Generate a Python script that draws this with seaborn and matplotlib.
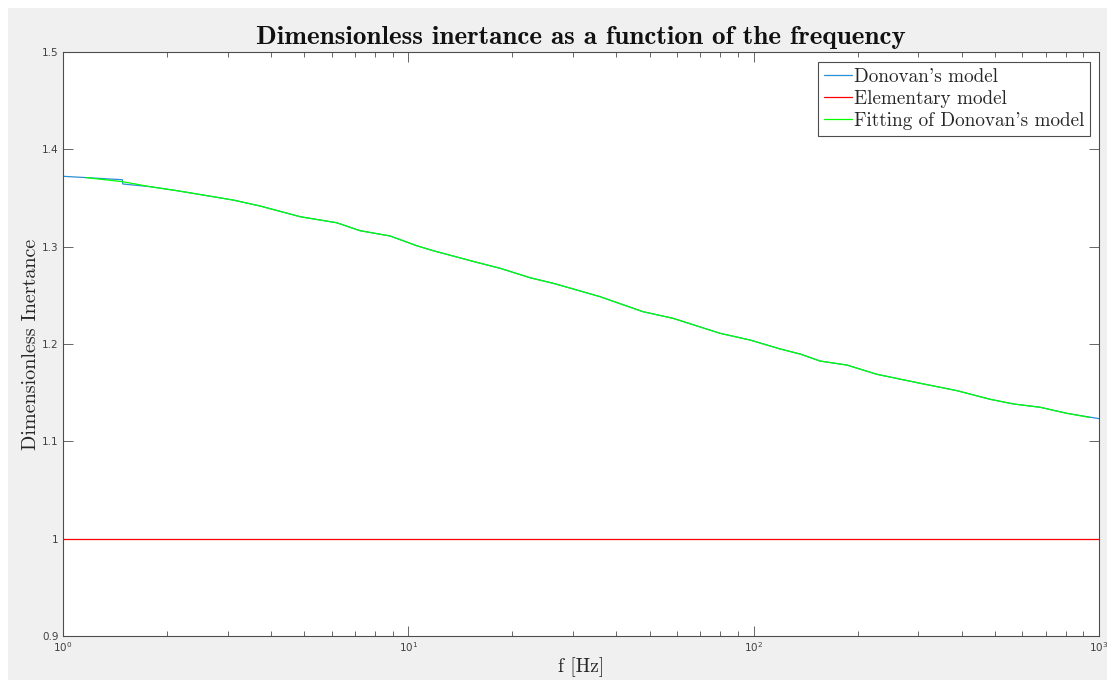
import numpy as np
import pandas as pd
import matplotlib
matplotlib.use("Agg")
import matplotlib.pyplot as plt
import seaborn as sns
from matplotlib.patches import Rectangle
from matplotlib.ticker import LogLocator, FixedLocator, FixedFormatter

# ---------------- data ----------------
fit_freq = [1.17, 1.49, 1.79, 2.14, 2.79, 3.11, 3.72, 4.86, 5.19, 6.20, 7.25, 8.85,
            10.57, 11.79, 15.78, 18.43, 22.51, 26.24, 30.74, 35.91, 47.8, 58.4,
            79.9, 97.6, 119.3, 136.3, 155.7, 186.1, 227.2, 302.9, 387.5, 483.7,
            565.0, 675.3, 806.6, 940.0]
fit_vals = [1.3709, 1.3667, 1.3616, 1.3575, 1.3507, 1.3479, 1.3418, 1.3308, 1.3291,
            1.3246, 1.3164, 1.3110, 1.3010, 1.2959, 1.2839, 1.2778, 1.2681, 1.2624,
            1.2555, 1.2486, 1.2332, 1.2264, 1.2110, 1.2041, 1.1949, 1.1897, 1.1825,
            1.1784, 1.1689, 1.1597, 1.1521, 1.1432, 1.1384, 1.1350, 1.1288, 1.1245]

don_freq = [1.0, 1.485, 1.49, 1.79, 2.14, 2.79, 3.11, 3.72, 4.86, 5.19, 6.20, 7.25,
            8.85, 10.57, 11.79, 15.78, 18.43, 22.51, 26.24, 30.74, 35.91, 47.8, 58.4,
            79.9, 97.6, 119.3, 136.3, 155.7, 186.1, 227.2, 302.9, 387.5, 483.7,
            565.0, 675.3, 806.6, 1000.0]
don_vals = [1.3723, 1.3688, 1.3644, 1.3616, 1.3575, 1.3507, 1.3479, 1.3418, 1.3308,
            1.3291, 1.3246, 1.3164, 1.3110, 1.3010, 1.2959, 1.2839, 1.2778, 1.2681,
            1.2624, 1.2555, 1.2486, 1.2332, 1.2264, 1.2110, 1.2041, 1.1949, 1.1897,
            1.1825, 1.1784, 1.1689, 1.1597, 1.1521, 1.1432, 1.1384, 1.1350, 1.1288,
            1.1233]

elem_freq = [1.0, 1000.0]
elem_vals = [1.0, 1.0]

y_ticks = [0.9, 1.0, 1.1, 1.2, 1.3, 1.4, 1.5]
y_tick_labels = ["0.9", "1", "1.1", "1.2", "1.3", "1.4", "1.5"]

labels = ["Donovan's model", "Elementary model", "Fitting of Donovan's model"]

# ---------------- style ----------------
sns.set_style("ticks")
plt.rcParams["font.family"] = ["DejaVu Sans"]
plt.rcParams["axes.formatter.use_mathtext"] = True

fig = plt.figure(figsize=(11.07, 6.80), dpi=100, facecolor="white")
fig.patches.append(Rectangle((8 / 1107, 0), 1 - 8 / 1107, 1 - 8 / 680,
                             transform=fig.transFigure, facecolor="#f0f0f0",
                             edgecolor="none", zorder=-10))
ax = fig.add_axes([63 / 1107, 1 - 636 / 680, (1099 - 63) / 1107, (636 - 52) / 680])
ax.set_facecolor("white")

df_don = pd.DataFrame({"f": don_freq, "v": don_vals})
df_el = pd.DataFrame({"f": elem_freq, "v": elem_vals})
df_fit = pd.DataFrame({"f": fit_freq, "v": fit_vals})

sns.lineplot(data=df_don, x="f", y="v", ax=ax, color="#2b8fd6", lw=0.9,
             estimator=None, sort=False, label=labels[0])
sns.lineplot(data=df_el, x="f", y="v", ax=ax, color="#ff0000", lw=0.9,
             estimator=None, sort=False, label=labels[1])
sns.lineplot(data=df_fit, x="f", y="v", ax=ax, color="#00ff00", lw=0.9,
             estimator=None, sort=False, label=labels[2])

ax.set_xscale("log")
ax.set_xlim(1, 1000)
ax.set_ylim(0.9, 1.5)
ax.yaxis.set_major_locator(FixedLocator(y_ticks))
ax.yaxis.set_major_formatter(FixedFormatter(y_tick_labels))
ax.xaxis.set_major_locator(LogLocator(base=10, numticks=10))
ax.xaxis.set_minor_locator(LogLocator(base=10, subs=np.arange(2, 10), numticks=10))

axcol = "#4d4d4d"
for s in ax.spines.values():
    s.set_visible(True)
    s.set_color(axcol)
    s.set_linewidth(0.8)
ax.tick_params(which="both", direction="in", top=True, right=True, color=axcol,
               width=0.6, labelsize=7.5, labelcolor="#404040")
ax.tick_params(which="major", length=7.5, pad=3)
ax.tick_params(which="minor", length=3.8)

ax.set_xlabel("f [Hz]", family="cmr10", fontsize=14, color="#262626", labelpad=2)
ax.set_ylabel("Dimensionless Inertance", family="cmr10", fontsize=14.5,
              color="#262626", labelpad=1.5)
ax.set_title("Dimensionless inertance as a function of the frequency",
             family="cmb10", fontsize=19.5, color="#111111", pad=6)

leg = ax.legend(loc="upper right", bbox_to_anchor=(1090 / 1107, 1 - 62 / 680),
                bbox_transform=fig.transFigure, prop={"family": "cmr10", "size": 13.8},
                frameon=True, fancybox=False, framealpha=1, edgecolor="#4d4d4d",
                handlelength=1.45, handletextpad=0.1, borderpad=0.3,
                labelspacing=0.22, borderaxespad=0)
leg.get_frame().set_linewidth(0.8)

fig.savefig("out.png", dpi=100, facecolor=fig.get_facecolor())
